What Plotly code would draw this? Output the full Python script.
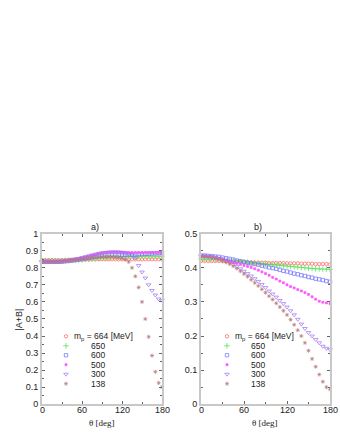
import plotly.graph_objects as go

W, H = 340, 440

# scattering angle in degrees
angles = list(range(0, 181, 5))
masses = ["664", "650", "600", "500", "300", "138"]
x_ticks = [0, 60, 120, 180]

# panel a) |A+B|
a_664 = [0.845, 0.845, 0.845, 0.845, 0.845, 0.845, 0.845, 0.846, 0.846, 0.847, 0.847, 0.848, 0.848,
         0.849, 0.849, 0.85, 0.85, 0.85, 0.85, 0.85, 0.85, 0.85, 0.85, 0.85, 0.85, 0.85, 0.85,
         0.85, 0.85, 0.85, 0.85, 0.85, 0.85, 0.85, 0.85, 0.85, 0.85]
a_650 = [0.84, 0.84, 0.84, 0.84, 0.84, 0.84, 0.841, 0.842, 0.843, 0.844, 0.845, 0.846, 0.847,
         0.849, 0.85, 0.852, 0.854, 0.856, 0.857, 0.858, 0.86, 0.861, 0.862, 0.863, 0.864, 0.865,
         0.865, 0.866, 0.866, 0.867, 0.867, 0.868, 0.868, 0.868, 0.868, 0.868, 0.868]
a_600 = [0.835, 0.835, 0.835, 0.835, 0.835, 0.835, 0.836, 0.838, 0.84, 0.842, 0.845, 0.848, 0.851,
         0.855, 0.858, 0.862, 0.866, 0.869, 0.872, 0.874, 0.876, 0.877, 0.877, 0.877, 0.877, 0.877,
         0.878, 0.878, 0.879, 0.88, 0.881, 0.882, 0.883, 0.884, 0.885, 0.886, 0.887]
a_500 = [0.835, 0.835, 0.835, 0.835, 0.835, 0.836, 0.838, 0.84, 0.843, 0.846, 0.85, 0.854, 0.858,
         0.863, 0.868, 0.873, 0.878, 0.883, 0.887, 0.89, 0.892, 0.893, 0.893, 0.893, 0.892, 0.891,
         0.89, 0.89, 0.89, 0.89, 0.89, 0.89, 0.89, 0.89, 0.89, 0.89, 0.89]
a_300 = [0.835, 0.835, 0.835, 0.835, 0.835, 0.836, 0.838, 0.84, 0.843, 0.847, 0.851, 0.855, 0.86,
         0.865, 0.87, 0.875, 0.88, 0.884, 0.888, 0.89, 0.892, 0.893, 0.893, 0.892, 0.89, 0.887,
         0.882, 0.875, 0.857, 0.813, 0.775, 0.74, 0.70, 0.667, 0.64, 0.617, 0.61]
a_138 = [0.835, 0.835, 0.835, 0.835, 0.835, 0.836, 0.837, 0.839, 0.841, 0.843, 0.846, 0.849, 0.852,
         0.855, 0.858, 0.861, 0.863, 0.865, 0.866, 0.866, 0.866, 0.865, 0.863, 0.86, 0.855, 0.848,
         0.835, 0.80, 0.75, 0.685, 0.60, 0.50, 0.395, 0.285, 0.19, 0.125, 0.10]

# panel b)
b_664 = [0.42, 0.42, 0.42, 0.42, 0.42, 0.42, 0.419, 0.419, 0.418, 0.418, 0.417, 0.417, 0.416,
         0.416, 0.416, 0.415, 0.415, 0.415, 0.415, 0.414, 0.414, 0.414, 0.414, 0.414, 0.413, 0.413,
         0.413, 0.413, 0.412, 0.412, 0.412, 0.412, 0.411, 0.411, 0.411, 0.411, 0.41]
b_650 = [0.426, 0.426, 0.426, 0.425, 0.425, 0.424, 0.423, 0.422, 0.421, 0.42, 0.419, 0.418, 0.417,
         0.416, 0.415, 0.414, 0.413, 0.412, 0.411, 0.41, 0.409, 0.408, 0.407, 0.406, 0.405, 0.404,
         0.403, 0.402, 0.401, 0.4, 0.399, 0.398, 0.397, 0.397, 0.396, 0.396, 0.395]
b_600 = [0.436, 0.436, 0.435, 0.434, 0.433, 0.432, 0.43, 0.428, 0.426, 0.424, 0.421, 0.419, 0.417,
         0.415, 0.413, 0.411, 0.409, 0.406, 0.404, 0.401, 0.399, 0.397, 0.394, 0.391, 0.389, 0.386,
         0.383, 0.381, 0.378, 0.376, 0.373, 0.371, 0.368, 0.366, 0.364, 0.361, 0.359]
b_500 = [0.433, 0.433, 0.432, 0.431, 0.429, 0.427, 0.425, 0.422, 0.419, 0.416, 0.413, 0.41, 0.407,
         0.404, 0.401, 0.397, 0.393, 0.388, 0.383, 0.378, 0.372, 0.367, 0.361, 0.356, 0.35, 0.345,
         0.341, 0.336, 0.332, 0.327, 0.322, 0.315, 0.308, 0.302, 0.299, 0.297, 0.295]
b_300 = [0.435, 0.435, 0.434, 0.433, 0.431, 0.428, 0.425, 0.421, 0.416, 0.41, 0.404, 0.397, 0.39,
         0.383, 0.376, 0.368, 0.36, 0.351, 0.342, 0.332, 0.323, 0.314, 0.304, 0.295, 0.285, 0.274,
         0.262, 0.249, 0.235, 0.222, 0.21, 0.2, 0.19, 0.18, 0.17, 0.164, 0.16]
b_138 = [0.433, 0.433, 0.432, 0.43, 0.428, 0.425, 0.421, 0.416, 0.411, 0.405, 0.398, 0.39, 0.382,
         0.374, 0.365, 0.356, 0.347, 0.337, 0.327, 0.317, 0.307, 0.296, 0.285, 0.274, 0.262, 0.248,
         0.233, 0.217, 0.2, 0.18, 0.157, 0.133, 0.11, 0.087, 0.066, 0.05, 0.044]

panel_a = [a_664, a_650, a_600, a_500, a_300, a_138]
panel_b = [b_664, b_650, b_600, b_500, b_300, b_138]

# gnuplot-ish point styles, thin and pale like the original
styles = [
    dict(symbol="circle-open", size=3.4, color="#ff5c5c"),
    dict(symbol="cross-thin-open", size=4, color="#45dc45"),
    dict(symbol="square-open", size=3.4, color="#6e6eff"),
    dict(symbol="square", size=2, color="#ff55ff"),
    dict(symbol="triangle-down-open", size=4, color="#9a6ef2"),
    dict(symbol="asterisk-open", size=3.4, color="#b87a7a"),
]

SANS = "Liberation Sans, Arial, sans-serif"
SERIF = "Liberation Serif, Times New Roman, serif"
TXT = "#222"


def px_x(x):
    return x / W


def px_y(y):
    return 1 - y / H


def mk(st):
    return dict(symbol=st["symbol"], size=st["size"], color=st["color"],
                line=dict(color=st["color"], width=0.7))


fig = go.Figure()

for vals, st, m in zip(panel_a, styles, masses):
    fig.add_trace(go.Scatter(x=angles, y=vals, mode="markers", cliponaxis=False, showlegend=False,
                             marker=mk(st), xaxis="x", yaxis="y", name=m))
for vals, st, m in zip(panel_b, styles, masses):
    fig.add_trace(go.Scatter(x=angles, y=vals, mode="markers", cliponaxis=False, showlegend=False,
                             marker=mk(st), xaxis="x2", yaxis="y2", name=m))

# hand-made keys (plotly legend rows are too tall for this spacing)
key_rows = [339 + 9.7 * i for i in range(len(masses))]
annotations = []
for key_x, text_x, num_x in [(66, 72, 89), (227, 233, 249)]:
    for i, (st, m) in enumerate(zip(styles, masses)):
        fig.add_trace(go.Scatter(x=[key_x], y=[key_rows[i]], mode="markers", showlegend=False,
                                 marker=mk(st), xaxis="x3", yaxis="y3", hoverinfo="skip"))
        if i == 0:
            label, lx = "m<sub>p</sub> = " + m + " [MeV]", text_x
        else:
            label, lx = m, num_x
        annotations.append(dict(x=px_x(lx), y=px_y(key_rows[i]), xref="paper", yref="paper",
                                text=label, showarrow=False, xanchor="left", yanchor="middle",
                                font=dict(family=SANS, size=8.5, color=TXT)))

# x tick labels, drawn a bit closer to the axis than plotly puts them
for xref in ["x", "x2"]:
    for t in x_ticks:
        annotations.append(dict(x=t, y=px_y(414), xref=xref, yref="paper", text=str(t),
                                showarrow=False, xanchor="center", yanchor="middle",
                                font=dict(family=SANS, size=9, color=TXT)))

# panel titles, axis titles
for txt, cx in [("a)", 95), ("b)", 258)]:
    annotations.append(dict(x=px_x(cx), y=px_y(227), xref="paper", yref="paper", text=txt,
                            showarrow=False, xanchor="center", yanchor="middle",
                            font=dict(family=SANS, size=9, color=TXT)))
for cx in [102, 265]:
    annotations.append(dict(x=px_x(cx), y=px_y(428), xref="paper", yref="paper", text="θ [deg]",
                            showarrow=False, xanchor="center", yanchor="middle",
                            font=dict(family=SERIF, size=9, color=TXT)))
annotations.append(dict(x=px_x(19), y=px_y(322), xref="paper", yref="paper", text="|A+B|",
                        textangle=-90, showarrow=False, xanchor="center", yanchor="middle",
                        font=dict(family=SANS, size=9, color=TXT)))

axis_common = dict(showline=True, linecolor="#c8c8c8", linewidth=2, mirror="allticks",
                   ticks="inside", ticklen=3, tickwidth=1, tickcolor="#666",
                   showgrid=False, zeroline=False, fixedrange=True,
                   tickfont=dict(family=SANS, size=9, color=TXT))

fig.update_layout(
    width=W, height=H,
    margin=dict(l=0, r=0, t=0, b=0),
    paper_bgcolor="white",
    plot_bgcolor="rgba(0,0,0,0)",
    showlegend=False,
    hovermode=False,
    annotations=annotations,
    xaxis=dict(domain=[px_x(42), px_x(162)], range=[0, 180], tick0=0, dtick=60, anchor="y",
               showticklabels=False,
               minor=dict(ticks="inside", ticklen=2, dtick=30, tickcolor="#666"), **axis_common),
    yaxis=dict(domain=[px_y(408.5), px_y(234)], range=[0, 1], tick0=0, dtick=0.1, anchor="x",
               minor=dict(ticks="inside", ticklen=2, dtick=0.05, tickcolor="#666"), **axis_common),
    xaxis2=dict(domain=[px_x(201), px_x(330)], range=[0, 180], tick0=0, dtick=60, anchor="y2",
                showticklabels=False,
                minor=dict(ticks="inside", ticklen=2, dtick=30, tickcolor="#666"), **axis_common),
    yaxis2=dict(domain=[px_y(408.5), px_y(234)], range=[0, 0.5], tick0=0, dtick=0.1, anchor="x2",
                minor=dict(ticks="inside", ticklen=2, dtick=0.05, tickcolor="#666"), **axis_common),
    xaxis3=dict(domain=[0, 1], range=[0, W], visible=False, anchor="y3", fixedrange=True),
    yaxis3=dict(domain=[0, 1], range=[H, 0], visible=False, anchor="x3", fixedrange=True),
)

# page body has an 8px default margin; drop it so the figure sits at the window corner
fig.write_html("out.html", config={"displayModeBar": False},
               post_script="document.body.style.margin='0';")
